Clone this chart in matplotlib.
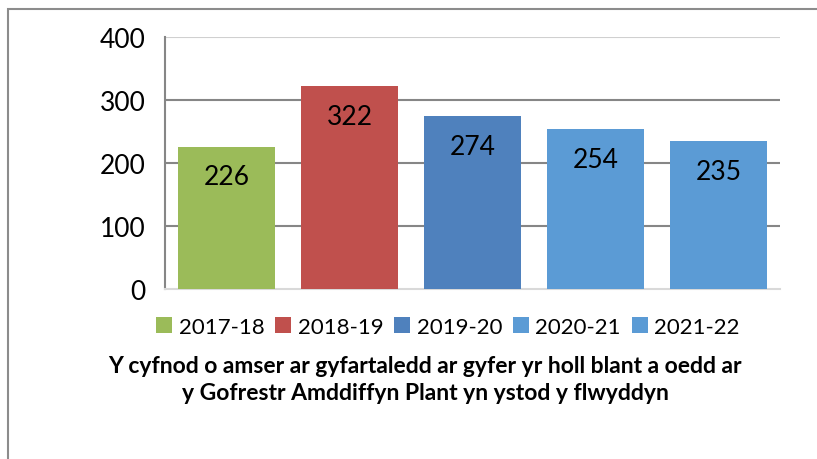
import numpy as np
import matplotlib.pyplot as plt
from matplotlib.patches import Rectangle, Patch

plt.rcParams['font.family'] = ['Lato', 'DejaVu Sans']

# data
years = ['2017-18', '2018-19', '2019-20', '2020-21', '2021-22']
values = [226, 322, 274, 254, 235]
colors = ['#9BBB59', '#C0504D', '#4F81BD', '#5B9BD5', '#5B9BD5']
yticks = [0, 100, 200, 300, 400]
title = ('Y cyfnod o amser ar gyfartaledd ar gyfer yr holl blant a oedd ar\n'
         'y Gofrestr Amddiffyn Plant yn ystod y flwyddyn')

W, H = 817, 460
fig = plt.figure(figsize=(W / 100, H / 100), dpi=100)
fig.patch.set_facecolor('white')

# outer chart border (runs off the right and bottom edges)
fig.patches.append(Rectangle((8 / W, -0.1), 1.2, 1 - 10 / H + 0.1,
                             transform=fig.transFigure, fill=False,
                             edgecolor='#8c8c8c', lw=1.5))

ax = fig.add_axes([165 / W, 1 - 290 / H, (780 - 165) / W, (290 - 38) / H])
x = np.arange(len(years))
bars = ax.bar(x, values, width=0.79, color=colors, zorder=3)

for xi, v in zip(x, values):
    ax.text(xi, v - 48, str(v), ha='center', va='center', fontsize=19,
            color='black', zorder=4)

ax.set_xlim(-0.5, len(years) - 0.5)
ax.set_ylim(0, 400)
ax.set_yticks(yticks)
ax.set_xticks([])
ax.tick_params(axis='y', length=0, labelsize=19, pad=14)
for t in yticks[1:-1]:
    ax.axhline(t, color='#868686', lw=1.5, zorder=1)
ax.axhline(400, color='#d0d0d0', lw=1.5, zorder=1)

for s in ['top', 'right']:
    ax.spines[s].set_visible(False)
ax.spines['left'].set_color('#868686')
ax.spines['left'].set_linewidth(1.5)
ax.spines['bottom'].set_color('#d9d9d9')
ax.spines['bottom'].set_linewidth(1.5)

handles = [Patch(facecolor=c, label=y) for c, y in zip(colors, years)]
fig.legend(handles=handles, loc='center', bbox_to_anchor=(448 / W, 1 - 328 / H),
           ncol=5, frameon=False, fontsize=16, handlelength=0.7, handleheight=0.7,
           handletextpad=0.3, columnspacing=0.5)

fig.text(425 / W, 1 - 380 / H, title, ha='center', va='center', fontsize=16.5,
         fontweight='bold', linespacing=1.3)

fig.savefig('out.png', dpi=100)
